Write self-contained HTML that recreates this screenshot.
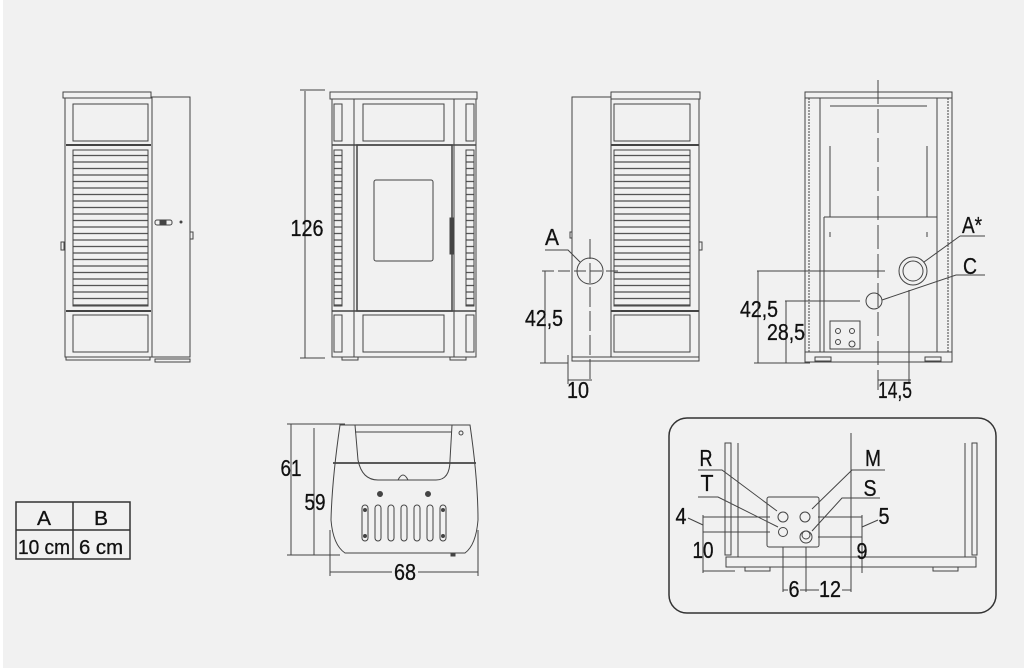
<!DOCTYPE html>
<html><head><meta charset="utf-8"><style>
html,body{margin:0;padding:0;background:#f1f1f1}
svg{display:block}
text{font-family:"Liberation Sans Narrow","Liberation Sans",sans-serif;fill:#111;stroke:#111;stroke-width:0.3}
</style></head><body>
<svg width="1024" height="668" viewBox="0 0 1024 668" xmlns="http://www.w3.org/2000/svg">
<rect x="0" y="0" width="1024" height="668" fill="#f1f1f1"/>
<rect x="0" y="0" width="3" height="668" fill="#fff"/>
<defs>
<pattern id="lv" x="0" y="150" width="10" height="6.5" patternUnits="userSpaceOnUse">
<line x1="0" y1="5.5" x2="10" y2="5.5" stroke="#555" stroke-width="1.3"/>
</pattern>
</defs>
<g fill="none" stroke="#444" stroke-width="1">
<!-- View 1 -->
<rect x="63" y="92" width="88" height="6"/>
<rect x="65" y="98" width="87" height="259"/>
<rect x="152" y="97" width="38" height="260"/>
<rect x="73" y="104" width="75" height="37"/>
<line x1="66" y1="145" x2="151" y2="145" stroke-width="2"/>
<rect x="73" y="150" width="75" height="156" fill="url(#lv)"/>
<line x1="66" y1="311" x2="151" y2="311" stroke-width="2"/>
<rect x="73" y="315" width="75" height="37"/>
<rect x="66" y="357" width="84" height="3"/>
<rect x="155" y="359" width="35" height="3"/>
<rect x="155" y="220" width="17" height="5" rx="2"/>
<rect x="160" y="221" width="6" height="3" fill="#444"/>
<circle cx="181" cy="222" r="1" fill="#444"/>
<rect x="61" y="242" width="3" height="8"/>
<rect x="190" y="232" width="3" height="7"/>
<!-- View 2 -->
<line x1="305" y1="91" x2="305" y2="358"/>
<line x1="300" y1="90" x2="325" y2="90"/>
<line x1="300" y1="358" x2="325" y2="358"/>
<rect x="330" y="92" width="147" height="7"/>
<rect x="332" y="99" width="144" height="258"/>
<line x1="354" y1="99" x2="354" y2="357"/>
<line x1="454" y1="99" x2="454" y2="357"/>
<rect x="334" y="104" width="8" height="37"/>
<rect x="466" y="104" width="8" height="37"/>
<rect x="334" y="150" width="8" height="156" fill="url(#lv)"/>
<rect x="466" y="150" width="8" height="156" fill="url(#lv)"/>
<rect x="334" y="315" width="8" height="37"/>
<rect x="466" y="315" width="8" height="37"/>
<line x1="332" y1="145" x2="476" y2="145" stroke-width="1.5"/>
<line x1="332" y1="311" x2="476" y2="311" stroke-width="1.5"/>
<rect x="363" y="104" width="81" height="37"/>
<rect x="357" y="145" width="95" height="166" stroke-width="1.5"/>
<rect x="374" y="180" width="59" height="81" rx="2"/>
<rect x="363" y="315" width="81" height="37"/>
<rect x="450" y="218" width="3" height="36" fill="#444"/>
<rect x="342" y="357" width="16" height="3"/>
<rect x="450" y="357" width="16" height="3"/>
<!-- View 3 -->
<rect x="572" y="97" width="39" height="260"/>
<rect x="611" y="92" width="89" height="7"/>
<rect x="611" y="99" width="88" height="258"/>
<rect x="614" y="104" width="76" height="37"/>
<line x1="611" y1="145" x2="699" y2="145" stroke-width="2"/>
<rect x="614" y="150" width="76" height="156" fill="url(#lv)"/>
<line x1="611" y1="311" x2="699" y2="311" stroke-width="2"/>
<rect x="614" y="315" width="76" height="37"/>
<rect x="572" y="357" width="127" height="4"/>
<rect x="570" y="232" width="2" height="6"/>
<rect x="699" y="242" width="3" height="8"/>
<circle cx="590" cy="271" r="13"/>
<line x1="542" y1="271" x2="622" y2="271" stroke-dasharray="12,4"/>
<line x1="590" y1="239" x2="590" y2="382" stroke-dasharray="20,4"/>
<line x1="545" y1="271" x2="545" y2="363"/>
<line x1="540" y1="363" x2="568" y2="363"/>
<line x1="568" y1="355" x2="568" y2="384"/>
<line x1="568" y1="380" x2="592" y2="380"/>
<polyline points="545,250 568,250 580,262"/>
<!-- View 4 -->
<rect x="805" y="92" width="147" height="270"/>
<line x1="805" y1="98" x2="952" y2="98"/>
<line x1="805" y1="352" x2="952" y2="352"/>
<line x1="809" y1="98" x2="809" y2="352" stroke-dasharray="2,1"/>
<line x1="948" y1="98" x2="948" y2="352" stroke-dasharray="2,1"/>
<line x1="820" y1="98" x2="820" y2="352"/>
<line x1="937" y1="98" x2="937" y2="352"/>
<polyline points="830,106 927,106"/>
<line x1="830" y1="146" x2="830" y2="217"/>
<line x1="927" y1="146" x2="927" y2="217"/>
<line x1="824" y1="217" x2="937" y2="217"/>
<line x1="824" y1="217" x2="824" y2="352"/>
<line x1="830" y1="232" x2="830" y2="237"/>
<line x1="927" y1="232" x2="927" y2="237"/>
<line x1="878" y1="80" x2="878" y2="390" stroke-dasharray="24,5"/>
<circle cx="913" cy="271" r="14"/>
<circle cx="913" cy="271" r="10"/>
<circle cx="874" cy="301" r="8"/>
<line x1="757" y1="271" x2="885" y2="271"/>
<line x1="785" y1="301" x2="860" y2="301"/>
<line x1="758" y1="271" x2="758" y2="363"/>
<line x1="786" y1="301" x2="786" y2="363"/>
<line x1="754" y1="363" x2="810" y2="363"/>
<line x1="909" y1="290" x2="909" y2="382"/>
<line x1="878" y1="380" x2="911" y2="380"/>
<rect x="830" y="321" width="30" height="28"/>
<circle cx="838" cy="331" r="2.5"/><circle cx="852" cy="331" r="2.5"/>
<circle cx="838" cy="342" r="2.5"/><circle cx="852" cy="344" r="3"/>
<polyline points="960,236 985,236"/>
<line x1="960" y1="236" x2="924" y2="262"/>
<polyline points="985,275 956,275 882,300"/>
<rect x="815" y="357" width="16" height="4"/>
<rect x="925" y="357" width="16" height="4"/>
<!-- View 5 -->
<line x1="291" y1="424" x2="291" y2="555"/>
<line x1="314" y1="428" x2="314" y2="555"/>
<line x1="287" y1="424" x2="345" y2="424"/>
<line x1="287" y1="555" x2="340" y2="555"/>
<path d="M340,425 L470,425 Q478,480 478,520 Q476,545 465,553 L345,553 Q333,545 331,520 Q332,480 340,425 Z"/>
<line x1="333" y1="463" x2="476" y2="463" stroke-width="1.8"/>
<line x1="355" y1="432" x2="452" y2="432"/>
<path d="M355,425 L358,460 Q362,480 378,480 L436,480 Q450,480 450,460 L452,425"/>
<path d="M398,480 Q403,470 408,480"/>
<circle cx="461" cy="433" r="2"/>
<circle cx="380" cy="494" r="2.5" fill="#444"/>
<circle cx="428" cy="494" r="2.5" fill="#444"/>
<rect x="362" y="505" width="6" height="36" rx="3"/>
<rect x="375" y="505" width="6" height="36" rx="3"/>
<rect x="388" y="505" width="6" height="36" rx="3"/>
<rect x="401" y="505" width="6" height="36" rx="3"/>
<rect x="414" y="505" width="6" height="36" rx="3"/>
<rect x="427" y="505" width="6" height="36" rx="3"/>
<rect x="440" y="505" width="6" height="36" rx="3"/>
<circle cx="365" cy="510" r="1.5" fill="#444"/><circle cx="365" cy="536" r="1.5" fill="#444"/>
<circle cx="443" cy="510" r="1.5" fill="#444"/><circle cx="443" cy="536" r="1.5" fill="#444"/>
<line x1="330" y1="530" x2="330" y2="576"/>
<line x1="478" y1="530" x2="478" y2="576"/>
<line x1="330" y1="572" x2="392" y2="572"/>
<line x1="418" y1="572" x2="478" y2="572"/>
<rect x="451" y="553" width="4" height="3" fill="#444"/>
<!-- View 6 -->
<rect x="669" y="418" width="327" height="195" rx="18" stroke="#333" stroke-width="1.5"/>
<rect x="725" y="443" width="6" height="112"/>
<line x1="738" y1="443" x2="738" y2="557"/>
<rect x="972" y="443" width="5" height="112"/>
<line x1="965" y1="443" x2="965" y2="557"/>
<line x1="738" y1="557" x2="965" y2="557"/>
<rect x="726" y="557" width="250" height="10"/>
<rect x="745" y="567" width="25" height="4"/>
<rect x="933" y="567" width="25" height="4"/>
<line x1="851" y1="433" x2="851" y2="592"/>
<rect x="767" y="497" width="52" height="50" rx="2"/>
<circle cx="783" cy="517" r="5"/><circle cx="805" cy="517" r="5"/>
<circle cx="783" cy="532" r="4.5"/>
<circle cx="806" cy="537" r="6"/><circle cx="806" cy="535" r="4"/>
<line x1="703" y1="517" x2="770" y2="517"/>
<line x1="703" y1="532" x2="770" y2="532"/>
<line x1="818" y1="517" x2="862" y2="517"/>
<line x1="818" y1="537" x2="862" y2="537"/>
<line x1="703" y1="515" x2="703" y2="573"/>
<line x1="862" y1="515" x2="862" y2="573"/>
<line x1="703" y1="571" x2="735" y2="571"/>
<line x1="783" y1="547" x2="783" y2="592"/>
<line x1="806" y1="547" x2="806" y2="592"/>
<line x1="783" y1="590" x2="788" y2="590"/><line x1="800" y1="590" x2="819" y2="590"/><line x1="842" y1="590" x2="851" y2="590"/>
<polyline points="698,470 722,470 777,511"/>
<polyline points="698,497 718,497 778,527"/>
<polyline points="885,470 852,470 812,509"/>
<polyline points="880,498 842,498 812,531"/>
<line x1="688" y1="518" x2="703" y2="525"/>
<line x1="878" y1="520" x2="862" y2="527"/>
<!-- Table -->
<rect x="16" y="502" width="114" height="57" stroke="#333" stroke-width="1.5"/>
<line x1="16" y1="530" x2="130" y2="530" stroke="#333" stroke-width="1.5"/>
<line x1="73" y1="502" x2="73" y2="559" stroke="#333" stroke-width="1.5"/>
</g>
<g font-size="23" text-anchor="middle">
<text x="307" y="236" textLength="33" lengthAdjust="spacingAndGlyphs">126</text>
<text x="552" y="245" textLength="14" lengthAdjust="spacingAndGlyphs">A</text>
<text x="544" y="326" textLength="38" lengthAdjust="spacingAndGlyphs">42,5</text>
<text x="578" y="398" textLength="22" lengthAdjust="spacingAndGlyphs">10</text>
<text x="972" y="233" textLength="20" lengthAdjust="spacingAndGlyphs">A*</text>
<text x="970" y="274" textLength="14" lengthAdjust="spacingAndGlyphs">C</text>
<text x="759" y="317" textLength="38" lengthAdjust="spacingAndGlyphs">42,5</text>
<text x="786" y="340" textLength="38" lengthAdjust="spacingAndGlyphs">28,5</text>
<text x="895" y="398" textLength="34" lengthAdjust="spacingAndGlyphs">14,5</text>
<text x="291" y="476" textLength="21" lengthAdjust="spacingAndGlyphs">61</text>
<text x="315" y="510" textLength="21" lengthAdjust="spacingAndGlyphs">59</text>
<text x="405" y="580" textLength="22" lengthAdjust="spacingAndGlyphs">68</text>
<text x="706" y="466" textLength="13" lengthAdjust="spacingAndGlyphs">R</text>
<text x="707" y="491" textLength="13" lengthAdjust="spacingAndGlyphs">T</text>
<text x="873" y="466" textLength="16" lengthAdjust="spacingAndGlyphs">M</text>
<text x="870" y="496" textLength="13" lengthAdjust="spacingAndGlyphs">S</text>
<text x="681" y="524" textLength="11" lengthAdjust="spacingAndGlyphs">4</text>
<text x="884" y="524" textLength="11" lengthAdjust="spacingAndGlyphs">5</text>
<text x="703" y="558" textLength="21" lengthAdjust="spacingAndGlyphs">10</text>
<text x="862" y="559" textLength="11" lengthAdjust="spacingAndGlyphs">9</text>
<text x="794" y="597" textLength="11" lengthAdjust="spacingAndGlyphs">6</text>
<text x="830" y="597" textLength="22" lengthAdjust="spacingAndGlyphs">12</text>
</g>
<g font-size="20" text-anchor="middle">
<text x="44" y="525" textLength="14" lengthAdjust="spacingAndGlyphs">A</text>
<text x="101" y="525" textLength="14" lengthAdjust="spacingAndGlyphs">B</text>
<text x="44" y="554" textLength="52" lengthAdjust="spacingAndGlyphs">10 cm</text>
<text x="101" y="554" textLength="44" lengthAdjust="spacingAndGlyphs">6 cm</text>
</g>
</svg>
</body></html>
